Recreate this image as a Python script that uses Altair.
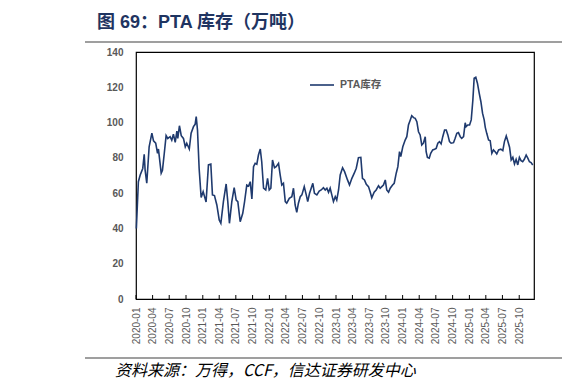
import altair as alt
import pandas as pd

# ---------------- data ----------------
dates = [
    "2020-01-03", "2020-01-14", "2020-01-24", "2020-02-07", "2020-02-15", "2020-02-20", "2020-02-29",
    "2020-03-13", "2020-03-28", "2020-04-06", "2020-04-18", "2020-04-28", "2020-05-03", "2020-05-18",
    "2020-05-25", "2020-06-04", "2020-06-14", "2020-06-23", "2020-07-06", "2020-07-15", "2020-07-24",
    "2020-08-03", "2020-08-12", "2020-08-17", "2020-08-26", "2020-09-05", "2020-09-17", "2020-09-27",
    "2020-10-05", "2020-10-19", "2020-10-29", "2020-11-11", "2020-11-20", "2020-11-26", "2020-12-03",
    "2020-12-12", "2020-12-23", "2021-01-03", "2021-01-11", "2021-01-19", "2021-02-01", "2021-02-14",
    "2021-02-23", "2021-03-06", "2021-03-19", "2021-04-01", "2021-04-10", "2021-04-24", "2021-05-09",
    "2021-05-18", "2021-05-27", "2021-06-09", "2021-06-22", "2021-07-03", "2021-07-12", "2021-07-25",
    "2021-08-08", "2021-08-18", "2021-08-30", "2021-09-09", "2021-09-18", "2021-09-27", "2021-10-06",
    "2021-10-15", "2021-10-24", "2021-11-02", "2021-11-12", "2021-11-20", "2021-11-30", "2021-12-12",
    "2021-12-22", "2021-12-31", "2022-01-09", "2022-01-18", "2022-01-29", "2022-02-07", "2022-02-20",
    "2022-03-01", "2022-03-10", "2022-03-19", "2022-03-29", "2022-04-06", "2022-04-20", "2022-05-04",
    "2022-05-13", "2022-05-22", "2022-05-31", "2022-06-09", "2022-06-19", "2022-06-28", "2022-07-11",
    "2022-07-22", "2022-07-30", "2022-08-09", "2022-08-18", "2022-08-27", "2022-09-05", "2022-09-18",
    "2022-10-01", "2022-10-12", "2022-10-24", "2022-11-03", "2022-11-12", "2022-11-21", "2022-11-30",
    "2022-12-09", "2022-12-18", "2022-12-28", "2023-01-05", "2023-01-15", "2023-01-24", "2023-02-06",
    "2023-02-17", "2023-03-05", "2023-03-16", "2023-03-29", "2023-04-11", "2023-04-22", "2023-05-04",
    "2023-05-17", "2023-05-26", "2023-06-06", "2023-06-16", "2023-06-28", "2023-07-07", "2023-07-16",
    "2023-07-29", "2023-08-09", "2023-08-22", "2023-08-31", "2023-09-09", "2023-09-18", "2023-09-28",
    "2023-10-06", "2023-10-16", "2023-10-25", "2023-11-07", "2023-11-16", "2023-11-27", "2023-12-06",
    "2023-12-15", "2023-12-22", "2024-01-02", "2024-01-15", "2024-01-24", "2024-02-02", "2024-02-12",
    "2024-02-20", "2024-03-01", "2024-03-10", "2024-03-19", "2024-03-28", "2024-04-06", "2024-04-15",
    "2024-04-24", "2024-05-04", "2024-05-09", "2024-05-16", "2024-05-26", "2024-06-03", "2024-06-14",
    "2024-06-24", "2024-07-03", "2024-07-12", "2024-07-21", "2024-07-30", "2024-08-08", "2024-08-18",
    "2024-08-27", "2024-09-05", "2024-09-14", "2024-09-23", "2024-10-06", "2024-10-15", "2024-10-24",
    "2024-11-02", "2024-11-12", "2024-11-20", "2024-11-30", "2024-12-09", "2024-12-14", "2024-12-23",
    "2025-01-02", "2025-01-11", "2025-01-20", "2025-01-27", "2025-02-05", "2025-02-14", "2025-02-24",
    "2025-03-05", "2025-03-14", "2025-03-23", "2025-03-29", "2025-04-06", "2025-04-16", "2025-04-25",
    "2025-05-04", "2025-05-13", "2025-05-22", "2025-05-31", "2025-06-10", "2025-06-22", "2025-07-03",
    "2025-07-12", "2025-07-22", "2025-07-30", "2025-08-09", "2025-08-18", "2025-08-27", "2025-09-05",
    "2025-09-14", "2025-09-23", "2025-10-02", "2025-10-11", "2025-10-20", "2025-10-29", "2025-11-08",
    "2025-11-17", "2025-11-26", "2025-12-05", "2025-12-14",
]

pta_stock = [
    40, 66.5, 70.3, 74, 82, 73, 65.6,
    86.3, 94, 89.6, 88.3, 82.6, 85, 71.3,
    73, 82.6, 92.6, 91, 92, 90, 93.4,
    88.8, 95.2, 91, 98.2, 92.6, 91, 86.3,
    88.3, 85, 94, 97.7, 99, 103.4, 95.8,
    74, 57.5, 60.8, 58, 55, 76, 76.5,
    59, 58.6, 53.3, 44.8, 42.9, 55.2, 65.2,
    55.2, 42.9, 55.2, 63.1, 56.1, 55.2, 43.8,
    48.6, 55.2, 64.6, 64, 66.5, 56.7, 75,
    76.9, 76.4, 81.6, 85, 77.8, 62.8, 61.8,
    68.4, 61.8, 62.8, 78.8, 74.4, 75, 76.9,
    70.3, 64.6, 65.6, 55.2, 54.3, 57.1, 58,
    62.8, 53.3, 49.1, 54.3, 58, 59, 63.7,
    59, 55.2, 59.9, 62.8, 65.6, 59.9, 59,
    61.2, 61.8, 63.1, 61.8, 62.8, 60.5, 62.8,
    59, 55.2, 58, 56.1, 61.8, 70.3, 74.4,
    72.2, 67.5, 64.6, 68.4, 71.3, 74.1, 80.1,
    80.3, 68.4, 67.5, 65, 63.7, 60.8, 57.4,
    60.5, 61.8, 64.2, 62.8, 63.7, 64.6, 67.5,
    61.8, 60.5, 62.8, 64.6, 65.6, 71.3, 75,
    83.5, 80.7, 86.3, 90.1, 92, 98.6, 101.5,
    103.9, 102.8, 102.4, 100.5, 94.8, 93, 87.3,
    88.3, 92, 83.5, 80.3, 79.8, 82.6, 84.5,
    84.9, 85.4, 88.3, 89.2, 87.9, 92, 95.8,
    95.8, 93, 89.2, 88.3, 88.6, 91.1, 93.9,
    94.3, 92, 91.1, 92, 99.9, 97.7, 98.6,
    98.6, 101.5, 112.8, 125.1, 125.7, 122.3, 116.6,
    111.8, 105.3, 101.5, 97.3, 93.9, 90.1, 89.7,
    82.6, 84.5, 83.5, 82.2, 84.5, 84.9, 84.1,
    89.2, 92.4, 89.7, 86, 78.8, 80.3, 76.5,
    79.2, 76, 80.3, 78.4, 77.8, 79.2, 81.6,
    79.8, 77.8, 77.3, 76,
]

series_name = "PTA库存"
quarter_labels = [f"{y}-{m:02d}" for y in range(2020, 2026) for m in (1, 4, 7, 10)]
y_ticks = [0, 20, 40, 60, 80, 100, 120, 140]
title_text = "图 69：PTA 库存（万吨）"
source_text = "资料来源：万得，CCF，信达证券研发中心"

# ---------------- chart ----------------
W, H = 398, 247
LINE_COLOR = "#1F3A6E"
GREY = "#595959"
FONT = "Liberation Sans, Noto Sans CJK SC"

df = pd.DataFrame({"date": dates, "value": pta_stock, "series": series_name})
qdf = pd.DataFrame({"date": [q + "-01" for q in quarter_labels]})

quarter_dt = [alt.DateTime(year=int(q[:4]), month=int(q[5:]), date=1, utc=True) for q in quarter_labels]

x_enc = alt.X(
    "date:T",
    scale=alt.Scale(
        type="utc",
        domain=[alt.DateTime(year=2020, month=1, date=1, utc=True),
                alt.DateTime(year=2025, month=12, date=21, utc=True)],
        nice=False,
    ),
    axis=alt.Axis(
        values=quarter_dt, format="%Y-%m", labelAngle=270, labelPadding=8,
        ticks=False, domain=False, grid=False, title=None,
        labelFont="Liberation Sans", labelFontSize=10, labelColor=GREY,
        labelOverlap=False, labelFlush=False, labelBound=False,
    ),
)

line = alt.Chart(df).mark_line(strokeWidth=1.6).encode(
    x=x_enc,
    y=alt.Y(
        "value:Q",
        scale=alt.Scale(domain=[0, 140], nice=False, zero=True),
        axis=alt.Axis(
            values=y_ticks, ticks=False, domain=False, grid=False, title=None,
            labelFont="Liberation Sans", labelFontSize=10, labelFontWeight="bold",
            labelColor=GREY, labelPadding=13,
        ),
    ),
    color=alt.Color(
        "series:N",
        scale=alt.Scale(range=[LINE_COLOR]),
        legend=alt.Legend(
            orient="none", legendX=173, legendY=20, title=None,
            symbolType="stroke", symbolSize=576, symbolStrokeWidth=1.6,
            labelFont=FONT, labelFontSize=10.5, labelFontWeight="bold",
            labelColor=GREY, labelOffset=5, padding=0,
        ),
    ),
)

ticks = alt.Chart(qdf).mark_rule(color="black", strokeWidth=1).encode(
    x=x_enc, y=alt.value(H - 4), y2=alt.value(H)
)

title = alt.Chart(pd.DataFrame({"t": [title_text]})).mark_text(
    align="left", baseline="middle", font=FONT, fontSize=18, fontWeight="bold", color="#1F3461"
).encode(text="t:N", x=alt.value(-39), y=alt.value(-29))

top_rule = alt.Chart(pd.DataFrame({"a": [0]})).mark_rule(color="#7F7F7F", strokeWidth=1.5).encode(
    x=alt.value(-51), x2=alt.value(430), y=alt.value(-10)
)

bottom_rule = alt.Chart(pd.DataFrame({"a": [0]})).mark_rule(color="#7F7F7F", strokeWidth=1.3).encode(
    x=alt.value(-51), x2=alt.value(430), y=alt.value(306)
)

source = alt.Chart(pd.DataFrame({"t": [source_text]})).mark_text(
    align="left", baseline="middle", font="Noto Sans CJK SC, Liberation Sans", fontSize=16,
    fontStyle="italic", color="#000000"
).encode(text="t:N", x=alt.value(-21), y=alt.value(319))

chart = alt.layer(line, ticks, title, top_rule, bottom_rule, source).properties(
    width=W, height=H,
    padding={"left": 128, "top": 44, "right": 28, "bottom": 82},
    autosize=alt.AutoSizeParams(type="none"),
).configure_view(stroke="black", strokeWidth=1.2)

chart.save("out.html", embed_options={"renderer": "svg", "actions": False})
